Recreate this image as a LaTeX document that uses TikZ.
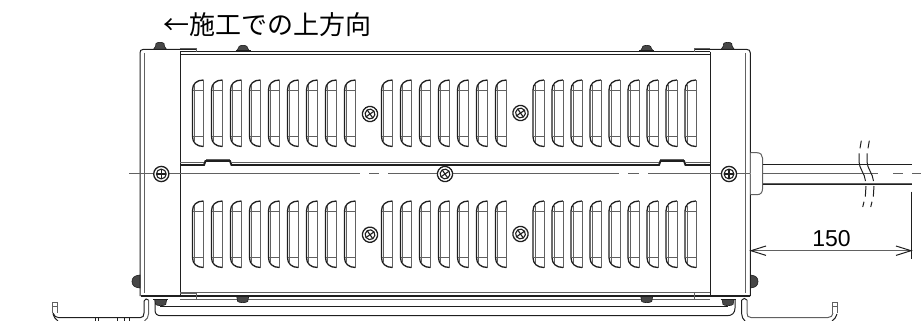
\documentclass[tikz,border=0pt]{standalone}
\usepackage{fontspec}
\setmainfont{Liberation Sans}
\newfontfamily\cjk{Noto Sans CJK JP}
\definecolor{dk}{gray}{0.12}
\definecolor{md}{gray}{0.38}
\tikzset{
  dkline/.style={draw=dk,line width=1pt},
  mdline/.style={draw=md,line width=1pt},
  thick dk/.style={draw=dk,line width=1.9pt},
  slotline/.style={draw=dk,line width=1.3pt},
  slotthin/.style={draw=md,line width=1pt},
  breakline/.style={draw=dk,line width=1pt},
  bolt/.style={fill=black!72,draw=dk,line width=0.6pt},
}
\newcommand{\slotshape}[3]{% x, y0, y1
  \draw[slotline] ({#1+11},#2) .. controls ({#1+4},#2) and (#1,{#2+4}) .. (#1,{#2+10}) -- (#1,{#3-10}) .. controls (#1,{#3-4}) and ({#1+4},#3) .. ({#1+11},#3);
  \draw[slotthin] ({#1+2.2},{#2+5}) -- ({#1+2.2},{#3-5});
  \draw[slotthin] ({#1+11},#2) -- ({#1+11},#3);
  \draw[slotthin] (#1,{#2+10}) -- ({#1+11},{#2+10});
  \draw[slotthin] (#1,{#3-10}) -- ({#1+11},{#3-10});
}
\newcommand{\screwhead}[3]{% x,y,rotation
  \begin{scope}[shift={(#1,#2)},rotate=#3]
    \draw[draw=dk,line width=1.3pt,fill=white] (0,0) circle[radius=7.6];
    \draw[draw=dk,line width=1.1pt] (0,0) circle[radius=4.9];
    \draw[draw=dk,line width=1.1pt] (-4.9,0) -- (4.9,0) (0,-4.9) -- (0,4.9);
  \end{scope}
}
\newcommand{\topbolt}[3]{% x, ytop, ybase
  \fill[bolt] ({#1-6.5},#3) -- ({#1-4.5},{#3-3}) -- ({#1-4},{#2+1.5}) .. controls ({#1-3},#2) and ({#1+3},#2) .. ({#1+4},{#2+1.5}) -- ({#1+4.5},{#3-3}) -- ({#1+6.5},#3) -- cycle;
  \draw[dk,line width=1pt] ({#1-7.5},#3) -- ({#1+7.5},#3);
}
\newcommand{\botbolt}[3]{% x, ybase, ybot
  \fill[bolt] ({#1-6},#2) -- ({#1-5},{#3-1.5}) .. controls ({#1-3},#3) and ({#1+3},#3) .. ({#1+5},{#3-1.5}) -- ({#1+6},#2) -- cycle;
  \draw[dk,line width=1pt] ({#1-7.5},#2) -- ({#1+7.5},#2);
}
\begin{document}
\begin{tikzpicture}[x=1pt,y=-1pt]
\useasboundingbox (0,0) rectangle (921,321);
% caption
\node[font=\cjk\fontsize{26}{28}\selectfont,inner sep=0pt] (title) at (267.5,24.5) {←施工での上方向};
% body: top edge
\draw[dkline] (180,51.7) -- (710,51.7);
\draw[dkline] (180,55) -- (710,55);
% side panels
\draw[mdline] (144,53) -- (144,293);
\draw[dkline] (140,296) -- (140,53) .. controls (140,50.5) and (141,49.5) .. (143,49.5) -- (196,49.5);
\draw[mdline] (180,48.5) -- (196,48.5) -- (196,51.7);
\draw[dkline] (180,51.7) -- (180,296);
\draw[mdline] (745.5,53) -- (745.5,293);
\draw[dkline] (750.3,296) -- (750.3,53) .. controls (750.3,50.5) and (749,49.5) .. (747,49.5) -- (694,49.5);
\draw[mdline] (710,48.5) -- (694,48.5) -- (694,51.7);
\draw[dkline] (710,51.7) -- (710,296);
% middle seam
\draw[mdline] (180,162.2) -- (205,162.2);
\draw[thick dk] (180,165) -- (204,165) -- (205.5,161) -- (230,161) -- (231.5,165) -- (659,165) -- (660.5,161) -- (684,161) -- (685.5,165) -- (710,165);
\draw[mdline] (231,162.2) -- (659,162.2);
\draw[mdline] (660,159.5) -- (684,159.5);
\draw[mdline] (206,159.5) -- (230,159.5);
\draw[mdline] (685,162.2) -- (710,162.2);
% slots
\foreach \sx in {192.5,211.5,230.5,249.5,268.5,287.5,306.5,325.5,344.5,
                 381.5,400.5,419.5,438.5,457.5,476.5,495.5,
                 533,552,571,590,609,628,647,666,685}{
  \slotshape{\sx}{80}{146.5}
  \slotshape{\sx}{201}{267.5}
}
% bottom edge
\draw[mdline] (180,292.7) -- (710,292.7);
\draw[thick dk] (141,296.2) -- (750,296.2);
\draw[mdline] (180,299.3) -- (710,299.3);
\draw[dkline] (160,306.5) -- (728,306.5);
\draw[mdline] (180,293) -- (196,293) -- (196,299.3);
\draw[mdline] (694,293) -- (694,299.3);
\draw[dkline] (155,300) -- (155,310) .. controls (155,314) and (157,315.7) .. (161,315.7) -- (727,315.7) .. controls (732,315.7) and (735,313) .. (735,308) -- (735,300);
% bolts
\topbolt{160}{42}{49.3}
\topbolt{243}{45}{51}
\topbolt{646.7}{45}{51}
\topbolt{727.7}{42}{49.3}
\botbolt{160.7}{299.5}{306}
\botbolt{242.7}{296.5}{303}
\botbolt{646.7}{296.5}{303}
\botbolt{728}{299.5}{306}
\fill[bolt] (140,275) .. controls (134,275.5) and (132,278) .. (132,281.5) .. controls (132,285) and (134,287.5) .. (140,288) -- cycle;
\fill[bolt] (750.5,275) .. controls (756,275.5) and (758,278) .. (758,281.5) .. controls (758,285) and (756,287.5) .. (750.5,288) -- cycle;
% centre line
\draw[mdline] (129,173.8) -- (360,173.8);
\draw[mdline] (369,173.8) -- (379,173.8);
\draw[mdline] (388,173.8) -- (619,173.8);
\draw[mdline] (628,173.8) -- (639,173.8);
\draw[mdline] (648,173.8) -- (878,173.8);
\draw[mdline] (893,173.8) -- (903,173.8);
\draw[mdline] (912,173.8) -- (921,173.8);
% screws
\screwhead{370}{114}{35}
\screwhead{520.5}{113}{35}
\screwhead{370}{234.7}{35}
\screwhead{520.5}{234}{35}
\screwhead{445}{174}{35}
\screwhead{161.3}{174}{0}
\screwhead{729}{174}{0}
% gland and cable
\draw[mdline,fill=white] (750.5,152.7) -- (757,152.7) .. controls (760.5,152.7) and (762.5,155) .. (762.5,158) -- (762.5,189) .. controls (762.5,192.5) and (760.5,194.7) .. (757,194.7) -- (750.5,194.7);
\draw[dkline] (762.5,164) -- (911.5,164);
\draw[mdline] (762.5,183.4) -- (911.5,183.4);
\draw[dkline] (762.5,184.4) -- (911.5,184.4);
% break marks
\foreach \dx in {0,8}{
  \draw[breakline] ({861.3+\dx},140.7) -- ({860+\dx},148.3);
  \draw[breakline] ({859+\dx},153.3) -- ({859+\dx},161.7) .. controls ({859+\dx},168) and ({865+\dx},174) .. ({865.5+\dx},181);
  \draw[breakline] ({866+\dx},186) -- ({865.3+\dx},196.7);
  \draw[breakline] ({864+\dx},201.7) -- ({862.7+\dx},207);
}
% dimension
\draw[dkline] (911.4,191.7) -- (911.4,258.5);
\draw[mdline] (751,250.7) -- (911,250.7);
\draw[dkline] (766,246) -- (751,250.7) -- (766,255.4);
\draw[dkline] (896,246) -- (911,250.7) -- (896,255.4);
\node[font=\fontsize{23}{24}\selectfont,inner sep=0pt] (dim) at (831.5,238.5) {150};
% mounting feet
\draw[dkline] (144,301) -- (144,313) .. controls (144,316) and (143,317.7) .. (140,317.7) -- (59,317.7) .. controls (56,317.7) and (54,316) .. (53,313);
\draw[mdline] (148.5,300) -- (148.5,314) .. controls (148.5,317) and (147,319) .. (144.5,321);
\draw[dkline] (144,301) .. controls (145,298.5) and (147,298.5) .. (148.5,300);
\draw[mdline] (52.5,302) -- (52.5,313) (57,302) -- (57,313) (52.5,302) -- (57,302) (52.5,306) -- (57,306);
\draw[dkline] (53,314) .. controls (54,317) and (55,319) .. (58,321);
\foreach \tx in {95,98,117,124,129}{\draw[dkline] (\tx,317.7) -- (\tx,321);}
\draw[dkline] (741.7,300) -- (741.7,314) .. controls (741.7,317) and (743,319) .. (745,321);
\draw[mdline] (747,300) -- (747,313) .. controls (747,316) and (748,317.5) .. (751,317.5) -- (828,317.5) .. controls (831,317.5) and (832.5,316) .. (833,313);
\draw[dkline] (741.7,300) .. controls (743,298) and (745.5,298) .. (747,300);
\draw[mdline] (832.5,302) -- (832.5,313) (837,302) -- (837,313) (832.5,302) -- (837,302) (832.5,306) -- (837,306);
\draw[dkline] (837,314) .. controls (836,317) and (835,319) .. (832,321);
\end{tikzpicture}
\end{document}
